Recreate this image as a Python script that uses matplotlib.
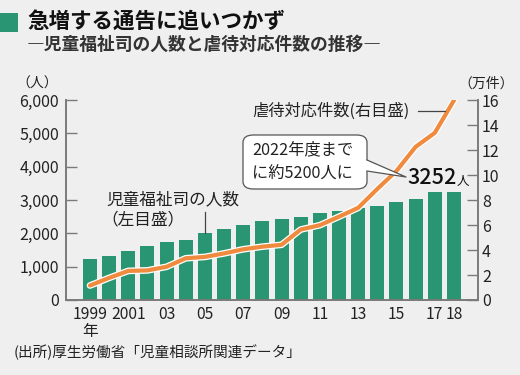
import matplotlib
matplotlib.use("Agg")
import matplotlib.pyplot as plt
import matplotlib.patheffects as pe
from matplotlib.patches import FancyBboxPatch, Polygon, Rectangle

plt.rcParams['font.family'] = ['Noto Sans CJK JP', 'DejaVu Sans']

years = list(range(1999, 2019))
welfare_officers = [1230, 1313, 1480, 1627, 1733, 1813, 2009, 2146, 2263, 2358,
                    2428, 2477, 2606, 2670, 2771, 2829, 2934, 3030, 3235, 3252]
abuse_cases = [1.16, 1.77, 2.33, 2.37, 2.66, 3.34, 3.45, 3.73, 4.06, 4.27,
               4.42, 5.64, 5.99, 6.67, 7.38, 8.89, 10.33, 12.26, 13.38, 15.98]
xlabels = {1999: "1999\n年", 2001: "2001", 2003: "03", 2005: "05", 2007: "07",
           2009: "09", 2011: "11", 2013: "13", 2015: "15", 2017: "17", 2018: "18"}
left_ticks = [0, 1000, 2000, 3000, 4000, 5000, 6000]
right_ticks = [0, 2, 4, 6, 8, 10, 12, 14, 16]

BG = "#efefef"
GREEN = "#2a9572"
ORANGE = "#ef8a3e"
SPINE = "#7a7a7a"
TXT = "#222222"

W, H = 520, 375
def fx(px):
    return px / W
def fy(py):
    return 1 - py / H

fig = plt.figure(figsize=(5.2, 3.75), dpi=100, facecolor=BG)
ax = fig.add_axes([0.127, 0.2, 0.792, 0.533])
ax.set_facecolor(BG)
x = list(range(len(years)))
ax.bar(x, welfare_officers, width=0.73, color=GREEN, zorder=2)
ax.set_xlim(-1.25, len(years) - 1 + 1.25)
ax.set_ylim(0, 6000)
ax.set_yticks(left_ticks)
ax.set_yticklabels([f"{v:,}" for v in left_ticks], fontsize=11.5, color=TXT)
ax.tick_params(axis='y', direction='in', length=8, width=1, color=SPINE, pad=5)
xt = [years.index(y) for y in xlabels]
ax.set_xticks(xt)
ax.set_xticklabels(list(xlabels.values()), fontsize=11.3, color=TXT, linespacing=1.0)
ax.tick_params(axis='x', length=0, pad=4)
ax.spines['top'].set_visible(False)
for s in ['left', 'bottom', 'right']:
    ax.spines[s].set_color(SPINE)
    ax.spines[s].set_linewidth(1.2)

ax2 = ax.twinx()
ax2.set_ylim(0, 16)
ax2.plot(x, abuse_cases, color=ORANGE, lw=3.0, solid_capstyle='round',
         solid_joinstyle='round', zorder=3,
         path_effects=[pe.Stroke(linewidth=4.8, foreground='white'), pe.Normal()])
ax2.set_yticks(right_ticks)
ax2.set_yticklabels([str(v) for v in right_ticks], fontsize=11.5, color=TXT)
ax2.tick_params(axis='y', direction='in', length=8, width=1, color=SPINE, pad=3)
ax2.spines['top'].set_visible(False)
for s in ['left', 'bottom', 'right']:
    ax2.spines[s].set_color(SPINE)
    ax2.spines[s].set_linewidth(1.2)

# leader line for welfare officers label
ax.plot([6, 6], [welfare_officers[6], 2640], color="#444444", lw=0.9, zorder=3)
fig.text(fx(106), fy(200), "児童福祉司の人数", fontsize=12, color=TXT, va='center', ha='left')
fig.text(fx(101), fy(220), "（左目盛）", fontsize=12, color=TXT, va='center', ha='left')

# leader line for abuse label
ax2.plot([17.1, 18.55], [15.1, 15.1], color="#444444", lw=0.9, zorder=4)
ax2.text(8.5, 15.1, "虐待対応件数(右目盛)", fontsize=11.7, color=TXT, va='center', ha='left')

# callout box
box = FancyBboxPatch((fx(243), fy(189)), (367 - 243) / W, (189 - 135) / H,
                     boxstyle="round,pad=0,rounding_size=0.02", transform=fig.transFigure,
                     facecolor='white', edgecolor='#555555', lw=0.9, zorder=5)
fig.patches.append(box)
tri = Polygon([(fx(366), fy(160)), (fx(406), fy(177)), (fx(366), fy(171))],
              closed=True, transform=fig.transFigure, facecolor='white', edgecolor='none', zorder=6)
fig.patches.append(tri)
fig.add_artist(plt.Line2D([fx(367), fx(406), fx(367)], [fy(160), fy(177), fy(171)],
                          transform=fig.transFigure, color='#555555', lw=0.9, zorder=7))
fig.text(fx(252), fy(150), "2022年度まで", fontsize=11.7, color=TXT, va='center', ha='left', zorder=8)
fig.text(fx(252), fy(174), "に約5200人に", fontsize=11.7, color=TXT, va='center', ha='left', zorder=8)
t3252 = fig.text(fx(407), fy(178), "3252", fontsize=15.5, color="#111111", va='center', ha='left',
                 fontweight='medium', zorder=8)
fig.canvas.draw()
bb = t3252.get_window_extent()
fig.text((bb.x1 + 0.5) / W, fy(181), "人", fontsize=9, color="#111111", va='center', ha='left', zorder=8)

# units
fig.text(fx(16), fy(84), "（人）", fontsize=10, color=TXT, va='center', ha='left')
fig.text(fx(458), fy(84), "（万件）", fontsize=10, color=TXT, va='center', ha='left')

# title
fig.patches.append(Rectangle((0, fy(32)), 18 / W, 19 / H, transform=fig.transFigure,
                             facecolor=GREEN, edgecolor='none'))
fig.text(fx(27), fy(21), "急増する通告に追いつかず", fontsize=15.5, fontweight='bold',
         color="#111111", va='center', ha='left')
fig.text(fx(27), fy(45), "―児童福祉司の人数と虐待対応件数の推移―", fontsize=12.8,
         fontweight='bold', color="#333333", va='center', ha='left')

# source
fig.text(fx(14), fy(352), "(出所)厚生労働省「児童相談所関連データ」", fontsize=10.5,
         color=TXT, va='center', ha='left')

fig.savefig("out.png", dpi=100, facecolor=BG)
